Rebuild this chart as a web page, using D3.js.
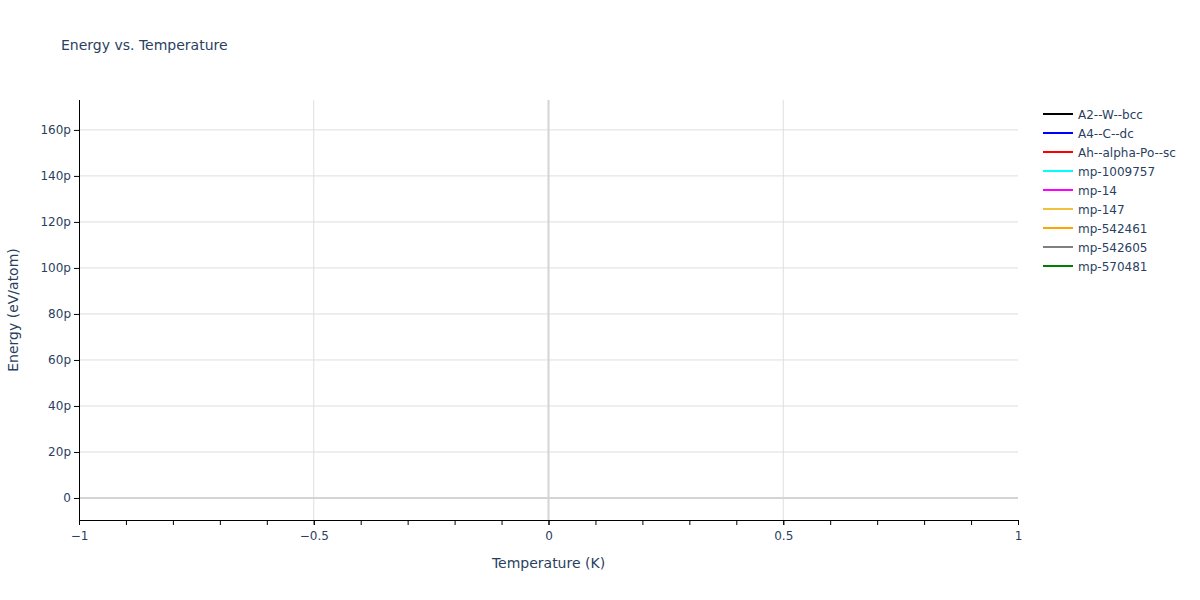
<!DOCTYPE html>
<html>
<head>
<meta charset="utf-8">
<script src="https://cdn.jsdelivr.net/npm/d3@7"></script>
<style>
  body { margin: 0; background: #fff; }
  svg { font-family: "DejaVu Sans", verdana, arial, sans-serif; }
</style>
</head>
<body>
<svg id="chart" width="1200" height="600"></svg>
<script>
// ==========================================
// DATA
// ==========================================
const seriesNames = ["A2--W--bcc", "A4--C--dc", "Ah--alpha-Po--sc", "mp-1009757", "mp-14",
  "mp-147", "mp-542461", "mp-542605", "mp-570481"];
const seriesColors = ["black", "blue", "red", "cyan", "magenta", "#f0c23c", "orange", "gray", "green"];
// one sample per structure, at T = 0 K
const temperatures = [0];
const energies = [[0], [0], [0], [0], [0], [0], [0], [0], [0]];
const xTicks = [-1, -0.5, 0, 0.5, 1];
const yTicks = [0, 20e-12, 40e-12, 60e-12, 80e-12, 100e-12, 120e-12, 140e-12, 160e-12];

// ==========================================
// LAYOUT
// ==========================================
const W = 1200, H = 600;
const margin = { top: 100, right: 182, bottom: 80, left: 79 };
const textColor = "#2a3f5f";
const font = "'DejaVu Sans', verdana, arial, sans-serif";

const svg = d3.select("#chart");
const x = d3.scaleLinear().domain([-1, 1]).range([margin.left, W - margin.right]);
const y = d3.scaleLinear().domain([-9.57e-12, 173e-12]).range([H - margin.bottom, margin.top]);

const fmtY = v => v === 0 ? "0" : Math.round(v * 1e12) + "p";
const fmtX = v => d3.format("")(v).replace("-", "\u2212");

// gridlines
svg.append("g").selectAll("line")
  .data(yTicks.filter(v => v !== 0)).enter().append("line")
  .attr("x1", x.range()[0]).attr("x2", x.range()[1])
  .attr("y1", d => y(d)).attr("y2", d => y(d))
  .attr("stroke", "#dedede").attr("stroke-width", 1);

svg.append("g").selectAll("line")
  .data(xTicks.filter(v => v !== 0 && v !== -1 && v !== 1)).enter().append("line")
  .attr("x1", d => x(d)).attr("x2", d => x(d))
  .attr("y1", y.range()[0]).attr("y2", y.range()[1])
  .attr("stroke", "#dedede").attr("stroke-width", 1);

// zero lines
svg.append("line")
  .attr("x1", x.range()[0]).attr("x2", x.range()[1])
  .attr("y1", y(0)).attr("y2", y(0))
  .attr("stroke", "#d4d4d4").attr("stroke-width", 2);
svg.append("line")
  .attr("x1", x(0)).attr("x2", x(0))
  .attr("y1", y.range()[0]).attr("y2", y.range()[1])
  .attr("stroke", "#d4d4d4").attr("stroke-width", 2);

// series lines
const line = d3.line().x((d, i) => x(temperatures[i])).y(d => y(d));
svg.append("g").selectAll("path")
  .data(energies).enter().append("path")
  .attr("d", d => line(d))
  .attr("fill", "none")
  .attr("stroke", (d, i) => seriesColors[i])
  .attr("stroke-width", 2);

// x axis
const xAxis = svg.append("g")
  .attr("transform", `translate(0,${H - margin.bottom})`)
  .call(d3.axisBottom(x).tickValues(d3.range(-10, 11).map(v => v / 10)).tickSize(5).tickFormat(""));
const xLab = svg.append("g")
  .attr("transform", `translate(0,${H - margin.bottom})`)
  .call(d3.axisBottom(x).tickValues(xTicks).tickSize(5).tickPadding(6).tickFormat(fmtX));
xLab.select(".domain").remove();
[xAxis, xLab].forEach(a => {
  a.selectAll("line").attr("stroke", "#000");
  a.select(".domain").attr("stroke", "#000");
  a.selectAll("text").attr("fill", textColor).attr("font-size", 12).attr("font-family", font);
});

// y axis
const yAxis = svg.append("g")
  .attr("transform", `translate(${margin.left},0)`)
  .call(d3.axisLeft(y).tickValues(yTicks).tickSize(5).tickPadding(3).tickFormat(fmtY));
yAxis.selectAll("line").attr("stroke", "#000");
yAxis.select(".domain").attr("stroke", "#000").attr("d", `M0.5,${y.range()[0]}V${y.range()[1]}`);
yAxis.selectAll("text").attr("fill", textColor).attr("font-size", 12).attr("font-family", font);

// titles
svg.append("text")
  .attr("x", 61).attr("y", 50)
  .attr("fill", textColor).attr("font-size", 14)
  .text("Energy vs. Temperature");

svg.append("text")
  .attr("x", (x.range()[0] + x.range()[1]) / 2).attr("y", 568)
  .attr("text-anchor", "middle")
  .attr("fill", textColor).attr("font-size", 14)
  .text("Temperature (K)");

svg.append("text")
  .attr("transform", `translate(18,${(y.range()[0] + y.range()[1]) / 2}) rotate(-90)`)
  .attr("text-anchor", "middle")
  .attr("fill", textColor).attr("font-size", 14)
  .text("Energy (eV/atom)");

// legend
const legend = svg.append("g").attr("transform", "translate(1043,114)");
const item = legend.selectAll("g")
  .data(seriesNames).enter().append("g")
  .attr("transform", (d, i) => `translate(0,${i * 19})`);
item.append("line")
  .attr("x1", 0).attr("x2", 30)
  .attr("stroke", (d, i) => seriesColors[i]).attr("stroke-width", 2);
item.append("text")
  .attr("x", 35).attr("y", 4.5)
  .attr("fill", textColor).attr("font-size", 12)
  .text(d => d);
</script>
</body>
</html>
